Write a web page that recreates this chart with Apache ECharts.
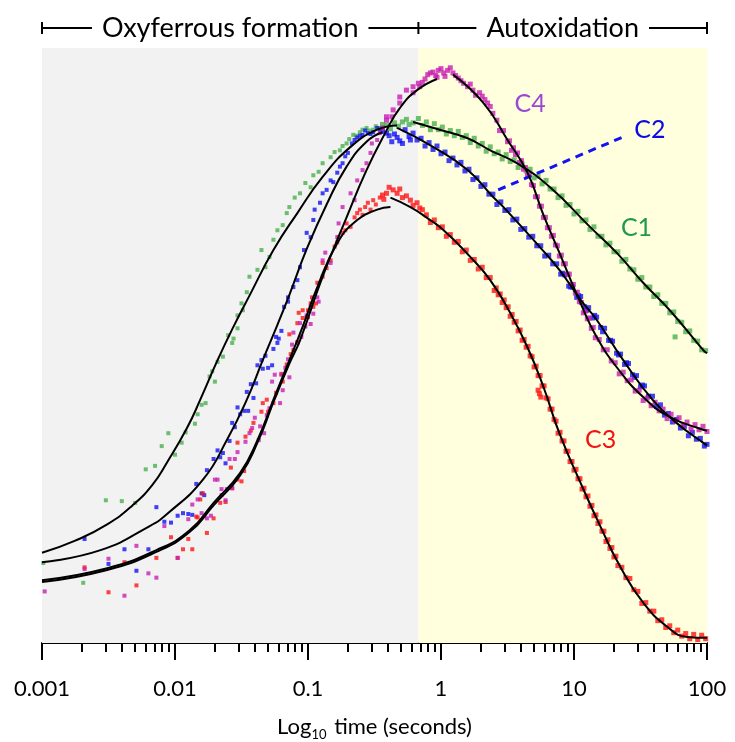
<!DOCTYPE html>
<html lang="en" style="height: 100%">
<head>
  <meta charset="utf-8">
</head>
<body style="height: 100%; margin: 0; background: #fff">
  <div id="container" style="width: 735px; height: 742px"></div>

  <script type="text/javascript" src="https://cdn.jsdelivr.net/npm/echarts@6/dist/echarts.min.js"></script>

  <script type="text/javascript">
    // x = log10(time / s), y = absorbance change in mOD (offset arbitrary)
    const tickLabels = ['0.001', '0.01', '0.1', '1', '10', '100'];
    const phaseEdges = [-3, -0.17, 2];
    const phaseNames = ['Oxyferrous formation', 'Autoxidation'];

    // fitted curves (rise and decay phases)
    const c1FitRise = [[-3.0,105],[-2.75,119],[-2.51,138],[-2.32,160],[-2.17,184],[-2.06,210],[-1.91,250],[-1.81,283],[-1.68,329],[-1.56,368],[-1.44,404],[-1.26,457],[-1.08,500],[-0.89,542],[-0.68,577],[-0.48,597],[-0.33,602]];
    const c1FitDecay = [[-0.21,606],[-0.01,597],[0.20,587],[0.37,573],[0.57,558],[0.82,530],[1.12,484],[1.32,454],[1.52,419],[1.72,387],[1.97,341],[2.0,337]];
    const c2FitRise = [[-3.0,94],[-2.56,108],[-2.19,136],[-2.06,150],[-1.79,190],[-1.61,236],[-1.46,283],[-1.34,329],[-1.23,370],[-1.14,405],[-1.01,458],[-0.86,510],[-0.71,554],[-0.56,583],[-0.44,594]];
    const c2FitDecay = [[-0.33,599],[-0.06,577],[0.20,550],[0.39,519],[0.47,507],[0.74,461],[0.89,434],[1.05,399],[1.17,376],[1.37,329],[1.59,283],[1.77,256],[1.97,233],[2.0,230]];
    const c3FitRise = [[-3.0,73],[-2.51,87],[-2.14,108],[-1.89,131],[-1.71,163],[-1.51,198],[-1.38,236],[-1.26,283],[-1.14,329],[-1.04,368],[-0.93,414],[-0.78,465],[-0.63,492],[-0.48,504],[-0.38,507]];
    const c3FitDecay = [[-0.38,518],[-0.23,507],[-0.11,495],[0.02,480],[0.22,449],[0.37,422],[0.52,384],[0.65,344],[0.77,298],[0.89,244],[1.05,186],[1.20,135],[1.35,88],[1.52,47],[1.70,19],[1.85,7],[2.0,6]];
    const c4FitRise = [[-3.0,71],[-2.51,85],[-2.14,106],[-1.89,129],[-1.71,160],[-1.51,195],[-1.38,233],[-1.26,280],[-1.14,325],[-1.06,352],[-0.89,426],[-0.71,495],[-0.56,550],[-0.42,593],[-0.31,622],[-0.18,643],[-0.03,656]];
    const c4FitDecay = [[0.09,661],[0.32,628],[0.50,585],[0.65,547],[0.77,498],[0.89,454],[1.05,395],[1.17,356],[1.32,321],[1.52,286],[1.72,263],[1.97,248],[2.0,247]];

    // measured points
    const c1Points = [[-2.99,93],[-2.69,70],[-2.52,166],[-2.40,165],[-2.30,163],[-2.22,202],[-2.15,206],[-2.10,229],[-2.05,244],[-2.00,219],[-1.95,233],[-1.92,245],[-1.85,255],[-1.83,266],[-1.80,277],[-1.77,279],[-1.74,310],[-1.72,316],[-1.70,304],[-1.68,327],[-1.64,333],[-1.60,358],[-1.57,349],[-1.56,354],[-1.53,366],[-1.53,381],[-1.50,395],[-1.49,387],[-1.46,408],[-1.44,426],[-1.38,434],[-1.35,457],[-1.32,437],[-1.29,449],[-1.26,469],[-1.23,480],[-1.19,486],[-1.16,500],[-1.14,507],[-1.10,518],[-1.06,523],[-1.02,535],[-0.98,530],[-0.96,544],[-0.92,548],[-0.89,558],[-0.83,565],[-0.80,571],[-0.76,573],[-0.74,578],[-0.71,581],[-0.69,586],[-0.66,591],[-0.64,590],[-0.61,594],[-0.59,597],[-0.56,599],[-0.54,596],[-0.51,597],[-0.49,601],[-0.46,599],[-0.44,603],[-0.41,602],[-0.38,598],[-0.35,605],[-0.32,601],[-0.29,606],[-0.26,609],[-0.24,603],[-0.21,605],
      [-0.17,610],[-0.14,602],[-0.11,606],[-0.08,597],[-0.05,604],[-0.02,597],[0.01,600],[0.04,592],[0.07,596],[0.10,590],[0.13,595],[0.16,588],[0.19,590],[0.22,582],[0.25,587],[0.28,578],[0.31,581],[0.34,572],[0.37,577],[0.40,569],[0.43,571],[0.46,563],[0.49,568],[0.52,560],[0.55,562],[0.58,553],[0.61,557],[0.64,549],[0.67,551],[0.70,541],[0.73,543],[0.76,534],[0.79,538],[0.82,528],[0.85,528],[0.88,518],[0.91,520],[0.94,509],[0.97,510],[1.00,499],[1.03,502],[1.06,491],[1.09,492],[1.12,481],[1.15,484],[1.18,473],[1.21,473],[1.24,463],[1.27,465],[1.30,455],[1.33,455],[1.36,444],[1.39,446],[1.42,435],[1.45,434],[1.48,423],[1.51,425],[1.54,414],[1.57,414],[1.60,403],[1.63,405],[1.66,395],[1.69,395],[1.72,384],[1.75,385],[1.76,356],[1.78,374],[1.81,373],[1.84,362],[1.87,363],[1.90,352],[1.93,351],[1.96,341],[1.99,340]];
    const c2Points = [[-2.68,121],[-2.50,92],[-2.38,109],[-2.29,84],[-2.20,109],[-2.14,158],[-2.08,141],[-2.03,140],[-1.98,148],[-1.94,151],[-1.90,150],[-1.87,149],[-1.84,185],[-1.80,174],[-1.78,172],[-1.76,201],[-1.71,214],[-1.68,224],[-1.66,216],[-1.64,221],[-1.62,209],[-1.59,235],[-1.57,256],[-1.55,251],[-1.53,274],[-1.51,266],[-1.48,270],[-1.46,292],[-1.45,270],[-1.43,301],[-1.41,285],[-1.39,302],[-1.38,323],[-1.35,329],[-1.34,319],[-1.32,334],[-1.30,320],[-1.27,323],[-1.26,342],[-1.24,356],[-1.23,349],[-1.22,354],[-1.20,363],[-1.18,391],[-1.15,397],[-1.15,402],[-1.11,414],[-1.08,422],[-1.06,437],[-1.03,457],[-1.01,477],[-0.98,472],[-0.96,492],[-0.95,504],[-0.91,512],[-0.89,523],[-0.86,527],[-0.83,538],[-0.81,536],[-0.78,547],[-0.76,554],[-0.74,558],[-0.72,566],[-0.70,570],[-0.67,581],[-0.65,585],[-0.63,588],[-0.61,590],[-0.59,591],[-0.57,596],[-0.55,593],[-0.53,592],[-0.51,594],[-0.48,599],[-0.46,597],[-0.44,595],[-0.41,593],[-0.39,590],[-0.37,583],[-0.35,592],[-0.33,588],[-0.31,584],[-0.29,581],[-0.27,597],[-0.24,589],[-0.23,585],
      [-0.21,593],[-0.18,585],[-0.15,587],[-0.12,578],[-0.09,582],[-0.06,574],[-0.03,578],[0.00,569],[0.03,571],[0.06,561],[0.09,564],[0.12,556],[0.15,559],[0.18,549],[0.21,551],[0.24,539],[0.27,541],[0.30,531],[0.33,533],[0.36,522],[0.39,522],[0.42,510],[0.45,513],[0.48,503],[0.51,504],[0.54,492],[0.57,493],[0.60,481],[0.63,482],[0.66,472],[0.69,473],[0.72,462],[0.75,462],[0.78,450],[0.81,451],[0.84,441],[0.87,441],[0.90,429],[0.915,430],[0.93,428],[0.96,415],[0.975,414],[0.99,414],[1.02,402],[1.035,404],[1.05,403],[1.08,391],[1.095,387],[1.11,390],[1.14,378],[1.155,381],[1.17,379],[1.20,367],[1.215,362],[1.23,366],[1.26,352],[1.275,352],[1.29,351],[1.32,337],[1.335,335],[1.35,336],[1.38,324],[1.395,326],[1.41,325],[1.44,312],[1.455,309],[1.47,311],[1.50,298],[1.515,300],[1.53,299],[1.56,287],[1.59,287],[1.62,275],[1.65,277],[1.68,265],[1.71,267],[1.74,257],[1.77,260],[1.80,250],[1.83,252],[1.86,241],[1.89,245],[1.92,237],[1.95,238],[1.98,229],[2.00,231]];
    const c3Points = [[-2.68,88],[-2.50,59],[-2.38,94],[-2.29,67],[-2.14,99],[-2.03,123],[-1.98,99],[-1.94,109],[-1.90,121],[-1.87,109],[-1.84,147],[-1.83,146],[-1.81,167],[-1.79,174],[-1.76,128],[-1.71,145],[-1.66,163],[-1.62,164],[-1.58,204],[-1.57,180],[-1.53,190],[-1.53,233],[-1.50,188],[-1.48,200],[-1.47,240],[-1.43,247],[-1.41,256],[-1.35,269],[-1.34,279],[-1.31,283],[-1.30,269],[-1.26,279],[-1.24,291],[-1.20,313],[-1.19,304],[-1.16,324],[-1.14,359],[-1.13,336],[-1.11,341],[-1.08,350],[-1.08,372],[-1.07,384],[-1.04,378],[-1.04,387],[-1.00,379],[-1.00,387],[-0.98,395],[-0.97,402],[-0.96,391],[-0.94,395],[-0.93,419],[-0.89,426],[-0.89,442],[-0.86,436],[-0.83,445],[-0.80,461],[-0.78,466],[-0.77,472],[-0.74,477],[-0.72,480],[-0.71,488],[-0.68,484],[-0.65,495],[-0.63,500],[-0.61,504],[-0.59,498],[-0.57,507],[-0.55,512],[-0.53,504],[-0.51,515],[-0.49,510],[-0.46,518],[-0.44,521],[-0.43,516],[-0.41,523],[-0.39,530],[-0.36,527],[-0.33,523],[-0.31,528],[-0.29,518],[-0.26,520],[-0.23,515],[-0.21,509],[-0.18,512],[-0.16,506],[-0.14,504],
      [-0.11,498],[-0.08,489],[-0.05,492],[-0.02,483],[0.01,484],[0.04,473],[0.07,475],[0.10,466],[0.13,467],[0.16,455],[0.19,457],[0.22,445],[0.25,446],[0.28,435],[0.31,437],[0.34,425],[0.37,425],[0.40,410],[0.415,413],[0.43,405],[0.445,406],[0.46,396],[0.475,399],[0.49,390],[0.505,391],[0.52,380],[0.535,382],[0.55,373],[0.565,374],[0.58,363],[0.595,364],[0.61,352],[0.625,353],[0.64,344],[0.655,345],[0.67,334],[0.685,333],[0.70,321],[0.715,322],[0.73,311],[0.73,294],[0.74,290],[0.745,311],[0.75,286],[0.76,299],[0.775,299],[0.79,285],[0.805,284],[0.82,272],[0.835,272],[0.85,260],[0.865,258],[0.88,244],[0.895,245],[0.91,235],[0.925,235],[0.94,223],[0.955,223],[0.97,211],[0.985,211],[1.00,201],[1.015,202],[1.03,191],[1.045,191],[1.06,179],[1.075,180],[1.09,170],[1.105,171],[1.12,159],[1.135,160],[1.15,148],[1.165,149],[1.18,139],[1.195,141],[1.21,130],[1.225,130],[1.24,118],[1.255,120],[1.27,110],[1.285,111],[1.30,100],[1.315,101],[1.33,90],[1.36,88],[1.39,76],[1.42,75],[1.45,62],[1.48,60],[1.51,46],[1.54,47],[1.57,37],[1.60,37],[1.63,26],[1.66,27],[1.69,18],[1.72,20],[1.75,12],[1.78,15],[1.81,8],[1.84,11],[1.87,5],[1.90,10],[1.93,4],[1.96,9],[1.99,5]];
    const c4Points = [[-2.98,60],[-2.68,86],[-2.50,98],[-2.38,55],[-2.29,113],[-2.20,81],[-2.14,76],[-2.08,136],[-1.98,99],[-1.90,144],[-1.87,161],[-1.83,167],[-1.80,151],[-1.76,145],[-1.73,148],[-1.70,190],[-1.68,190],[-1.65,172],[-1.65,179],[-1.62,166],[-1.61,179],[-1.59,214],[-1.57,180],[-1.55,214],[-1.53,222],[-1.47,234],[-1.44,244],[-1.42,250],[-1.40,262],[-1.37,236],[-1.36,252],[-1.33,244],[-1.31,265],[-1.29,273],[-1.27,304],[-1.25,312],[-1.21,279],[-1.20,312],[-1.19,294],[-1.17,320],[-1.15,330],[-1.14,309],[-1.12,347],[-1.11,361],[-1.08,349],[-1.06,372],[-1.05,356],[-1.02,368],[-1.01,381],[-1.01,379],[-0.98,371],[-0.98,391],[-0.96,383],[-0.93,402],[-0.92,397],[-0.89,445],[-0.87,454],[-0.83,442],[-0.78,472],[-0.77,488],[-0.74,507],[-0.68,523],[-0.65,515],[-0.63,538],[-0.59,550],[-0.56,558],[-0.53,570],[-0.52,581],[-0.48,585],[-0.46,593],[-0.44,599],[-0.41,608],[-0.41,612],[-0.37,612],[-0.36,620],[-0.31,628],[-0.31,635],[-0.26,643],[-0.21,640],[-0.21,647],[-0.17,651],[-0.16,647],[-0.14,652],[-0.12,656],[-0.10,661],[-0.08,663],[-0.06,664],[-0.04,660],[-0.03,658],[-0.02,666],[0.00,668],[0.02,663],[0.03,659],[0.05,666],[0.07,669],[0.09,663],[0.11,660],[0.13,657],[0.15,654],[0.17,651],[0.20,647],[0.22,650],[0.24,643],[0.26,637],[0.29,640],[0.31,636],[0.33,632],[0.35,628],[0.37,624],[0.39,616],
      [0.42,608],[0.44,596],[0.47,596],[0.50,583],[0.515,584],[0.53,573],[0.545,576],[0.56,568],[0.575,570],[0.59,559],[0.605,561],[0.62,551],[0.635,553],[0.65,544],[0.665,545],[0.68,533],[0.695,532],[0.71,519],[0.725,519],[0.74,508],[0.755,508],[0.77,495],[0.785,495],[0.80,483],[0.815,483],[0.83,473],[0.845,474],[0.86,463],[0.875,462],[0.89,450],[0.905,451],[0.92,441],[0.935,441],[0.95,429],[0.965,429],[0.98,417],[0.995,417],[1.01,407],[1.025,408],[1.04,397],[1.055,396],[1.07,384],[1.085,386],[1.10,377],[1.115,378],[1.13,366],[1.145,367],[1.16,355],[1.19,353],[1.22,341],[1.25,341],[1.28,328],[1.31,326],[1.34,313],[1.37,315],[1.40,305],[1.43,306],[1.46,293],[1.49,294],[1.52,282],[1.55,285],[1.58,276],[1.61,280],[1.64,270],[1.67,272],[1.70,261],[1.73,266],[1.76,258],[1.79,262],[1.82,253],[1.85,257],[1.88,249],[1.91,254],[1.94,248],[1.97,252],[2.00,246]];

    // annotations (data coordinates)
    const scaleBar = { x: -2.79, from: 407, to: 507, text: '100 mOD' };
    const curveLabels = [
      { text: 'C4', at: [0.67, 627], color: '#9a46d6' },
      { text: 'C2', at: [1.57, 597], color: '#0a0ae6' },
      { text: 'C1', at: [1.47, 483], color: '#1e9a4a' },
      { text: 'C3', at: [1.20, 236], color: '#f01414' }
    ];
    const c2Pointer = [[0.43, 527], [1.36, 588]];

    const FONT = 'Lato, "Open Sans", sans-serif';
    const minorTicks = [];
    for (let n = -3; n < 2; n++) {
      for (let k = 2; k <= 9; k++) minorTicks.push(n + Math.log10(k));
    }

    var dom = document.getElementById('container');
    var myChart = echarts.init(dom, null, { renderer: 'canvas' });

    function scatter(name, data, color) {
      return {
        name: name, type: 'scatter', data: data, z: 3,
        symbol: 'rect',
        symbolSize: function (v) { return v[0] > -0.45 ? 5 : 4; },
        itemStyle: { color: color }, silent: true
      };
    }
    function fit(data) {
      return {
        type: 'line', data: data, z: 5, showSymbol: false,
        smooth: 0.5,
        lineStyle: { color: '#000', width: 2 }, silent: true
      };
    }

    var option = {
      animation: false,
      grid: { left: 42, right: 28, top: 48, bottom: 99, containLabel: false, outerBoundsMode: 'none' },
      xAxis: [
        {
          type: 'value', min: -3, max: 2, interval: 1,
          name: '{a|Log}{s|10}{a| time (seconds)}',
          nameLocation: 'middle', nameGap: 70,
          nameTextStyle: {
            rich: {
              a: { fontFamily: FONT, fontSize: 22, color: '#000', lineHeight: 28 },
              s: { fontFamily: FONT, fontSize: 13, color: '#000', lineHeight: 28, verticalAlign: 'bottom', padding: [12, 2, 0, 0] }
            }
          },
          axisLine: { lineStyle: { color: '#000', width: 2 } },
          axisTick: { length: 17, lineStyle: { color: '#000', width: 2 } },
          axisLabel: {
            margin: 35, fontFamily: FONT, fontSize: 22, color: '#000',
            formatter: function (v) { return tickLabels[Math.round(v) + 3]; }
          },
          splitLine: { show: false }
        },
        {
          type: 'value', min: -3, max: 2, position: 'bottom',
          axisLine: { show: false },
          axisTick: { show: true, customValues: minorTicks, length: 9, lineStyle: { color: '#000', width: 2 } },
          axisLabel: { show: false },
          splitLine: { show: false }
        }
      ],
      yAxis: { type: 'value', min: 0, max: 692, show: false, splitLine: { show: false } },
      series: [
        {
          type: 'line', data: [], z: 0, silent: true,
          markArea: {
            silent: true,
            data: [
              [{ xAxis: phaseEdges[0], yAxis: 0, itemStyle: { color: '#f2f2f2' } }, { xAxis: phaseEdges[1], yAxis: 692 }],
              [{ xAxis: phaseEdges[1], yAxis: 0, itemStyle: { color: '#ffffdd' } }, { xAxis: phaseEdges[2], yAxis: 692 }]
            ]
          }
        },
        scatter('C1', c1Points, '#48b04c'),
        Object.assign(scatter('C2', c2Points, '#1212f2'), {
          markLine: {
            silent: true, symbol: ['none', 'none'],
            label: { show: false },
            lineStyle: { color: '#1212f2', width: 3, type: [8, 6] },
            data: [[{ coord: c2Pointer[0] }, { coord: c2Pointer[1] }]]
          }
        }),
        scatter('C3', c3Points, '#ff1414'),
        scatter('C4', c4Points, '#c81eb4'),
        fit(c1FitRise), fit(c1FitDecay),
        fit(c2FitRise), fit(c2FitDecay),
        fit(c3FitRise), fit(c3FitDecay),
        fit(c4FitRise), fit(c4FitDecay)
      ]
    };
    myChart.setOption(option);

    // annotations placed through the chart's own coordinate system
    function px(p) { return myChart.convertToPixel({ gridIndex: 0 }, p); }
    var graphics = [];
    var yTop = 28;
    var ex = phaseEdges.map(function (e) { return px([e, 0])[0]; });
    graphics.push({ type: 'line', shape: { x1: ex[0], y1: yTop, x2: ex[2], y2: yTop }, style: { stroke: '#000', lineWidth: 2 } });
    ex.forEach(function (x) {
      graphics.push({ type: 'line', shape: { x1: x, y1: yTop - 6, x2: x, y2: yTop + 6 }, style: { stroke: '#000', lineWidth: 2 } });
    });
    phaseNames.forEach(function (t, i) {
      graphics.push({
        type: 'text', z: 10,
        style: {
          text: t, x: (ex[i] + ex[i + 1]) / 2, y: yTop, font: '27px ' + FONT, fill: '#000',
          textAlign: 'center', textVerticalAlign: 'middle',
          backgroundColor: '#fff', padding: [0, 10]
        }
      });
    });
    var b0 = px([scaleBar.x, scaleBar.from]);
    var b1 = px([scaleBar.x, scaleBar.to]);
    graphics.push({ type: 'line', shape: { x1: b0[0], y1: b0[1], x2: b1[0], y2: b1[1] }, style: { stroke: '#000', lineWidth: 2 } });
    [b0, b1].forEach(function (b) {
      graphics.push({ type: 'line', shape: { x1: b[0] - 11, y1: b[1], x2: b[0] + 11, y2: b[1] }, style: { stroke: '#000', lineWidth: 2 } });
    });
    graphics.push({
      type: 'text',
      style: { text: scaleBar.text, x: b0[0] + 27, y: (b0[1] + b1[1]) / 2, font: '23px ' + FONT, fill: '#000', textAlign: 'left', textVerticalAlign: 'middle' }
    });
    curveLabels.forEach(function (l) {
      var p = px(l.at);
      graphics.push({
        type: 'text', z: 10,
        style: { text: l.text, x: p[0], y: p[1], font: '25px ' + FONT, fill: l.color, textAlign: 'center', textVerticalAlign: 'middle' }
      });
    });
    myChart.setOption({ graphic: graphics });

    window.addEventListener('resize', myChart.resize);
  </script>
</body>
</html>
